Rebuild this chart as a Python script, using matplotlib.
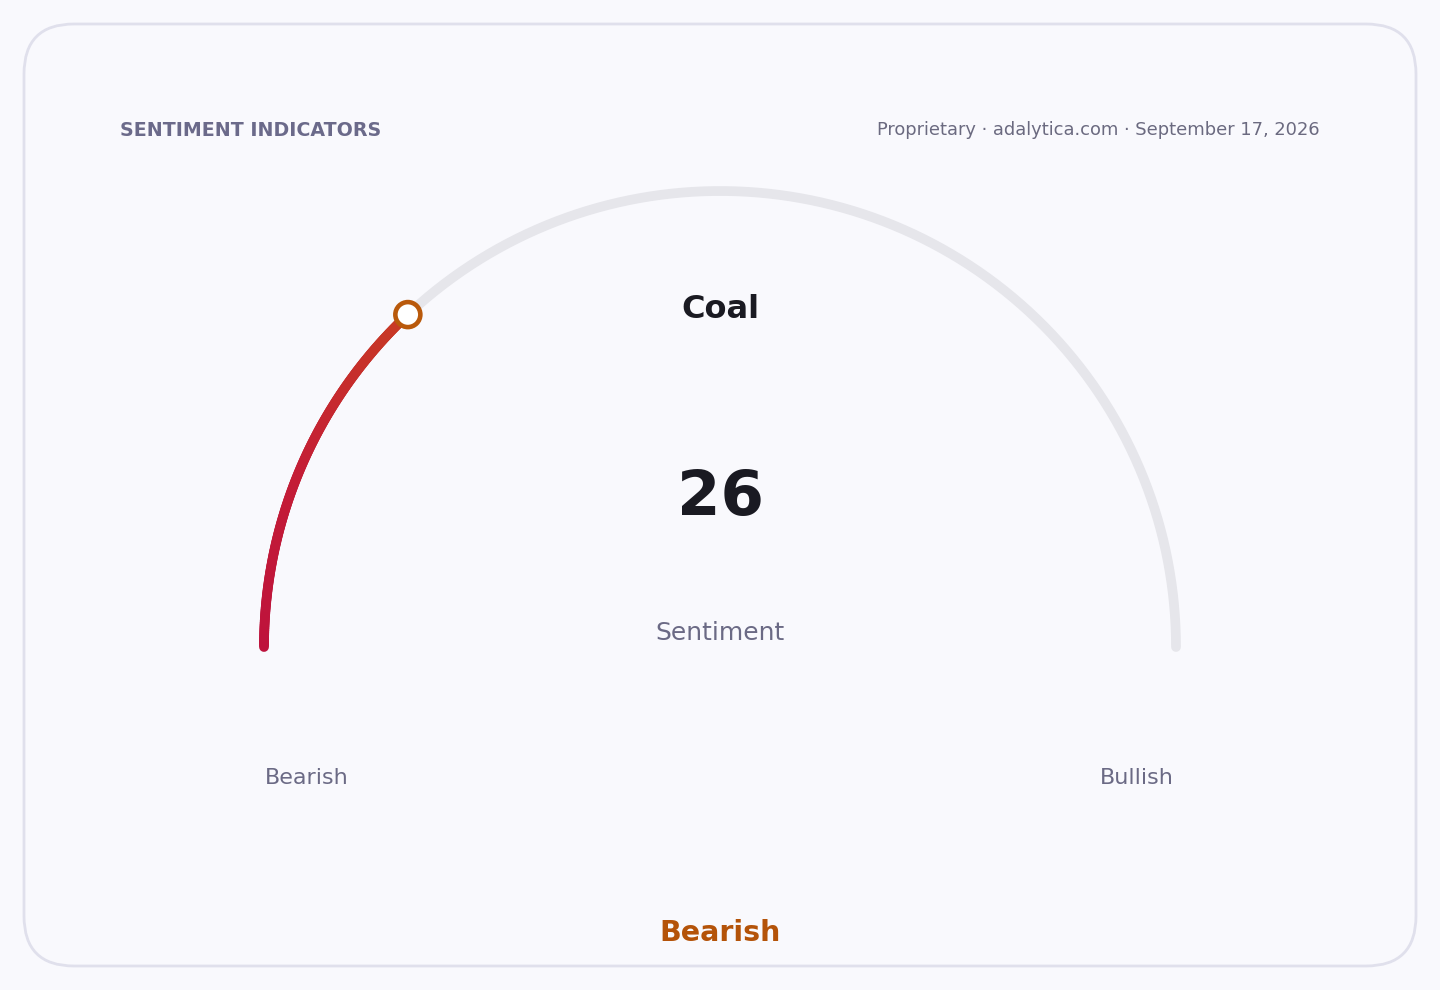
import numpy as np
import matplotlib.pyplot as plt
from matplotlib.patches import FancyBboxPatch, Circle
from matplotlib.collections import LineCollection
from matplotlib.colors import LinearSegmentedColormap

# Données
titre = "SENTIMENT INDICATORS"
source = "Proprietary · adalytica.com · September 17, 2026"
actif = "Coal"
valeur = 26
vmin, vmax = 0, 100
etiquette = "Sentiment"
bornes = ["Bearish", "Bullish"]
verdict = "Bearish"

fond = "#f9f9fd"
fig = plt.figure(figsize=(14.4, 9.9), dpi=100, facecolor=fond)
ax = fig.add_axes([0, 0, 1, 1])
ax.set_xlim(0, 1440)
ax.set_ylim(990, 0)
ax.axis("off")
ax.set_facecolor(fond)

# Carte arrondie
carte = FancyBboxPatch((24, 24), 1392, 942, boxstyle="round,pad=0,rounding_size=50",
                       facecolor=fond, edgecolor="#e0e0ec", linewidth=2)
ax.add_patch(carte)

# Jauge
cx, cy, r = 720, 647, 456
t = np.linspace(np.pi, 0, 400)
ax.plot(cx + r * np.cos(t), cy - r * np.sin(t), color="#e6e6eb", lw=7,
        solid_capstyle="round", zorder=2)

frac = (valeur - vmin) / (vmax - vmin)
a = np.linspace(np.pi, np.pi - frac * np.pi, 200)
px, py = cx + r * np.cos(a), cy - r * np.sin(a)
pts = np.column_stack([px, py]).reshape(-1, 1, 2)
segs = np.concatenate([pts[:-1], pts[1:]], axis=1)
cmap = LinearSegmentedColormap.from_list("g", ["#be123c", "#c41e36", "#c83a24"])
lc = LineCollection(segs, colors=cmap(np.linspace(0, 1, len(segs))), linewidths=7,
                    capstyle="round", zorder=3)
ax.add_collection(lc)
ax.add_patch(Circle((px[-1], py[-1]), 12.5, facecolor="white", edgecolor="#b9590b",
                    linewidth=3.3, zorder=4))

# Textes
ax.text(120, 130, titre, fontsize=13.7, fontweight="bold", color="#6b6a8a",
        ha="left", va="center")
ax.text(1320, 130, source, fontsize=12.9, color="#6b6a80", ha="right", va="center")
ax.text(720, 309, actif, fontsize=23, fontweight="bold", color="#1a1a22",
        ha="center", va="center")
ax.text(720, 498, str(valeur), fontsize=45, fontweight="bold", color="#1a1a22",
        ha="center", va="center")
ax.text(720, 633, etiquette, fontsize=18, color="#6b6a85", ha="center", va="center")
ax.text(307, 778, bornes[0], fontsize=16, color="#6b6a85", ha="center", va="center")
ax.text(1137, 778, bornes[1], fontsize=16, color="#6b6a85", ha="center", va="center")
ax.text(720, 933, verdict, fontsize=20.5, fontweight="bold", color="#b45309",
        ha="center", va="center")

fig.savefig("out.png", dpi=100, facecolor=fond)
